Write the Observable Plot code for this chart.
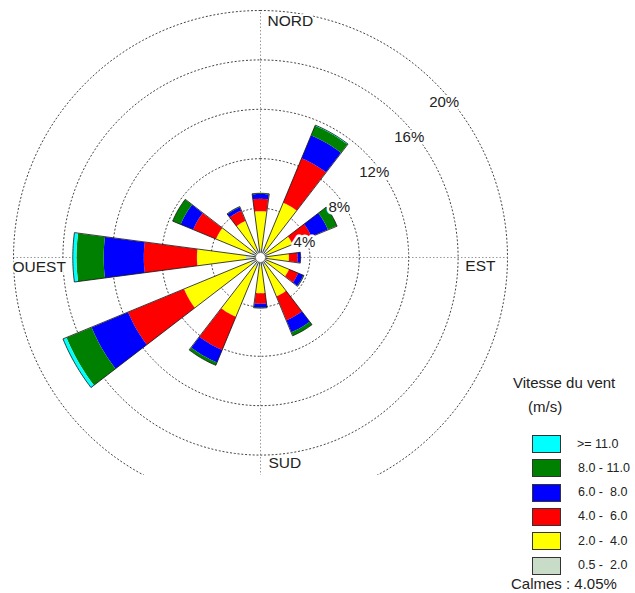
<!DOCTYPE html>
<html>
<head>
<meta charset="utf-8">
<script src="https://cdn.jsdelivr.net/npm/d3@7"></script>
<script src="https://cdn.jsdelivr.net/npm/@observablehq/plot@0.6"></script>
<style>
  html, body { margin: 0; padding: 0; background: #fff; }
  #wrap { position: relative; width: 635px; height: 593px; font-family: "Liberation Sans", Arial, sans-serif; color: #222; }
  #wrap svg text { paint-order: stroke; }
  .legend { position: absolute; left: 0; top: 0; width: 635px; height: 593px; pointer-events: none; }
  .legend .t { position: absolute; font-size: 15px; white-space: pre; line-height: 1; }
  .legend .sw { position: absolute; width: 27px; height: 16px; border: 1px solid #333; }
  .legend .lb { position: absolute; font-size: 12.5px; white-space: pre; line-height: 1; }
</style>
</head>
<body>
<div id="wrap"></div>
<script>
// ---- data (percent of observations) ----
const directions = ["N", "NNE", "ENE", "E", "ESE", "SSE", "S", "SSW", "WSW", "W", "WNW", "NNW"];
const angles = [0, 30, 60, 90, 120, 150, 180, 210, 240, 270, 300, 330];
const speedClasses = ["0.5 -  2.0", "2.0 -  4.0", "4.0 -  6.0", "6.0 -  8.0", "8.0 - 11.0", ">= 11.0"];
const classColors = ["#c8dcc8", "#ffff00", "#ff0000", "#0000ff", "#008000", "#00ffff"];
const s05_2  = [0.7, 0.8, 0.6, 0.6, 0.6, 0.7, 0.7, 0.8, 0.9, 1.2, 0.8, 0.7];
const s2_4   = [3.05, 4.0, 2.2, 1.7, 1.9, 2.7, 2.2, 4.4, 5.8, 3.95, 3.1, 2.5];
const s4_6   = [1.0, 3.9, 1.65, 0.7, 0.8, 2.1, 0.85, 2.9, 4.9, 4.3, 2.0, 0.9];
const s6_8   = [0.4, 2.0, 1.45, 0.25, 0.45, 1.05, 0.3, 1.1, 3.2, 3.25, 1.1, 0.3];
const s8_11  = [0.05, 0.85, 0.8, 0.0, 0.05, 0.3, 0.05, 0.25, 2.2, 2.2, 0.7, 0.05];
const s11    = [0, 0.05, 0, 0, 0, 0, 0, 0, 0.3, 0.3, 0, 0];
const rings = [4, 8, 12, 16, 20];
const cardinals = ["NORD", "EST", "SUD", "OUEST"];
const calmes = 4.05;

const series = [s05_2, s2_4, s4_6, s6_8, s8_11, s11];

// ---- geometry derived from the data ----
const halfWidth = 7.5; // degrees
const rad = d => d * Math.PI / 180;
function arc(r, a0, a1, n) {
  const pts = [];
  for (let k = 0; k <= n; k++) {
    const a = rad(a0 + (a1 - a0) * k / n);
    pts.push([r * Math.sin(a), r * Math.cos(a)]);
  }
  return pts;
}
const segRows = [];
const outlineRows = [];
directions.forEach((dir, i) => {
  const th = angles[i];
  let r0 = 0;
  series.forEach((s, c) => {
    const v = s[i];
    if (v <= 0) return;
    const r1 = r0 + v;
    const poly = arc(r0, th - halfWidth, th + halfWidth, 12).reverse().concat(arc(r1, th - halfWidth, th + halfWidth, 12));
    poly.forEach(([x, y]) => segRows.push({id: dir + c, fill: classColors[c], x, y}));
    r0 = r1;
  });
  const poly = [[0, 0]].concat(arc(r0, th - halfWidth, th + halfWidth, 16));
  poly.forEach(([x, y]) => outlineRows.push({id: dir, x, y}));
});
const ringRows = [];
rings.forEach(r => arc(r, 0, 360, 240).forEach(([x, y]) => ringRows.push({r, x, y})));

const pxPerUnit = 12.35;
const W = 635, H = 593, cx = 260, cy = 257, frameBottom = 475;
const Rmax = d3.max(rings);

const cardMarks = [
  {t: cardinals[0], a: 0, anchor: "start", dx: 7, dy: 11},
  {t: cardinals[1], a: 90, anchor: "end", dx: -12, dy: 9},
  {t: cardinals[2], a: 180, anchor: "start", dx: 8, dy: -41},
  {t: cardinals[3], a: 270, anchor: "start", dx: -1, dy: 10}
].map(o => Plot.text([o], {
  x: d => Rmax * Math.sin(rad(d.a)), y: d => Rmax * Math.cos(rad(d.a)),
  text: "t", textAnchor: o.anchor, dx: o.dx, dy: o.dy,
  fontSize: 15.5, fill: "#222", stroke: "white", strokeWidth: 4
}));

const chart = Plot.plot({
  width: W, height: H,
  marginTop: 0, marginBottom: H - frameBottom, marginLeft: 0, marginRight: 0,
  x: {domain: [-cx / pxPerUnit, (W - cx) / pxPerUnit], axis: null},
  y: {domain: [-(frameBottom - cy) / pxPerUnit, cy / pxPerUnit], axis: null},
  color: {type: "identity"},
  style: {fontFamily: "'Liberation Sans', Arial, sans-serif", background: "white", overflow: "visible"},
  marks: [
    Plot.ruleX([0], {y1: -Rmax, y2: Rmax, stroke: "#999", strokeDasharray: "1.5,2", strokeWidth: 1, clip: true}),
    Plot.ruleY([0], {x1: -Rmax, x2: Rmax, stroke: "#999", strokeDasharray: "1.5,2", strokeWidth: 1, clip: true}),
    Plot.line(ringRows, {x: "x", y: "y", z: "r", curve: "linear-closed", stroke: "#444", strokeWidth: 1, strokeDasharray: "1.2,2.6", clip: true}),
    Plot.line(segRows, {x: "x", y: "y", z: "id", fill: "fill", stroke: "none", curve: "linear-closed"}),
    Plot.line(outlineRows, {x: "x", y: "y", z: "id", fill: "none", stroke: "#111", strokeWidth: 0.8, curve: "linear-closed"}),
    Plot.dot([calmes], {x: () => 0, y: () => 0, r: 5, fill: "white", stroke: "#777", strokeWidth: 1}),
    Plot.text(rings, {
      x: r => r * Math.SQRT1_2, y: r => r * Math.SQRT1_2, text: r => r + "%",
      dx: 9, dy: 19.5, fontSize: 15, fill: "#222", stroke: "white", strokeWidth: 5
    }),
    ...cardMarks
  ]
});

const wrap = document.getElementById("wrap");
wrap.appendChild(chart);

// ---- legend ----
const lg = document.createElement("div");
lg.className = "legend";
function addText(cls, txt, left, top) {
  const e = document.createElement("div");
  e.className = cls; e.textContent = txt;
  e.style.left = left + "px"; e.style.top = top + "px";
  lg.appendChild(e);
}
addText("t", "Vitesse du vent", 513, 375);
addText("t", "(m/s)", 528, 399);
const order = speedClasses.map((s, i) => i).reverse();
order.forEach((c, k) => {
  const top = 435 + k * 24.3;
  const sw = document.createElement("div");
  sw.className = "sw";
  sw.style.left = "532px"; sw.style.top = top + "px";
  sw.style.background = classColors[c];
  lg.appendChild(sw);
  addText("lb", speedClasses[c], c === 5 ? 577 : 578, top + 2.5);
});
addText("t", "Calmes : " + calmes.toFixed(2) + "%", 511, 576);
wrap.appendChild(lg);
</script>
</body>
</html>
